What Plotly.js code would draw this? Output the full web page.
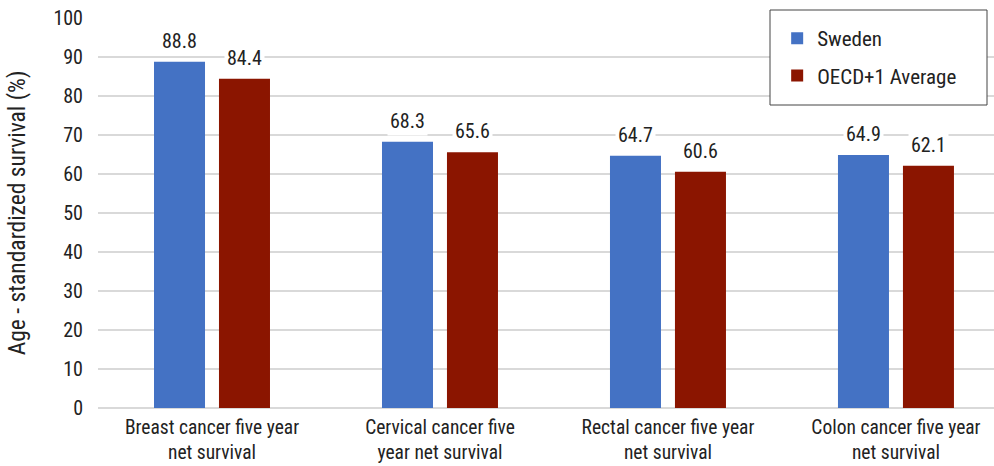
<!DOCTYPE html>
<html>
<head>
<meta charset="utf-8">
<script src="https://cdn.plot.ly/plotly-3.0.1.min.js"></script>
<style>html,body{margin:0;padding:0;background:#fff}#chart{width:994px;height:466px}</style>
</head>
<body>
<div id="chart"></div>
<script>
const categories = [
  "Breast cancer five year<br>net survival",
  "Cervical cancer five<br>year net survival",
  "Rectal cancer five year<br>net survival",
  "Colon cancer five year<br>net survival"
];
const swedenValues = [88.8, 68.3, 64.7, 64.9];
const oecdValues = [84.4, 65.6, 60.6, 62.1];
const seriesNames = ["Sweden", "OECD+1 Average"];
const yTicks = [0, 10, 20, 30, 40, 50, 60, 70, 80, 90, 100];

const FONT = '"Roboto Condensed", "Liberation Sans Narrow", "DejaVu Sans Condensed", sans-serif';
const colors = ["#4472C4", "#8B1500"];

const traces = [swedenValues, oecdValues].map((vals, k) => ({
  type: "bar",
  name: seriesNames[k],
  x: categories,
  y: vals,
  marker: {color: colors[k]},
  legendgroup: "g" + k,
  hoverinfo: "skip"
}));

const offset = 0.1425;
const annotations = [];
[swedenValues, oecdValues].forEach((vals, k) => {
  vals.forEach((v, i) => {
    annotations.push({
      x: i + (k === 0 ? -offset : offset), y: v, xref: "x", yref: "y",
      text: v.toFixed(1), showarrow: false, yanchor: "bottom", yshift: 6,
      bgcolor: "#ffffff", borderpad: 2,
      font: {family: FONT, size: 20, color: "#222"}
    });
  });
});

const layout = {
  width: 994, height: 466,
  margin: {l: 98, r: 0, t: 18, b: 58},
  paper_bgcolor: "#fff", plot_bgcolor: "#fff",
  font: {family: FONT, size: 20, color: "#222"},
  barmode: "group",
  bargap: 0.43,
  bargroupgap: 0.215,
  showlegend: true,
  legend: {
    x: 0.758, y: 1.0, xanchor: "left", yanchor: "top",
    bgcolor: "rgba(0,0,0,0)", borderwidth: 0,
    font: {family: FONT, size: 21, color: "#222"},
    traceorder: "grouped", tracegroupgap: 7,
    itemwidth: 30
  },
  xaxis: {
    type: "category", range: [-0.5, 3.43],
    showgrid: false, zeroline: false, showline: false,
    ticks: "", ticklabelstandoff: 5,
    tickfont: {family: FONT, size: 19.5, color: "#222"},
    fixedrange: true
  },
  yaxis: {
    range: [0, 100], tickvals: yTicks, ticktext: yTicks.map(String),
    showgrid: true, gridcolor: "#d9d9d9", gridwidth: 1.5,
    zeroline: true, zerolinecolor: "#d9d9d9", zerolinewidth: 1.5,
    showline: false, ticks: "", ticklabelstandoff: 14,
    tickfont: {family: FONT, size: 20, color: "#222"},
    title: {text: "Age - standardized survival (%)", font: {family: FONT, size: 23.5, color: "#222"}, standoff: 21},
    fixedrange: true
  },
  shapes: [{
    type: "rect", xref: "paper", yref: "paper", layer: "above",
    x0: (770 - 98) / 896, x1: (987 - 98) / 896,
    y0: (408 - 105) / 390, y1: (408 - 10) / 390,
    line: {color: "#444", width: 1}, fillcolor: "#ffffff"
  }],
  annotations: annotations
};

Plotly.newPlot("chart", traces, layout, {displayModeBar: false, staticPlot: true});
</script>
</body>
</html>
